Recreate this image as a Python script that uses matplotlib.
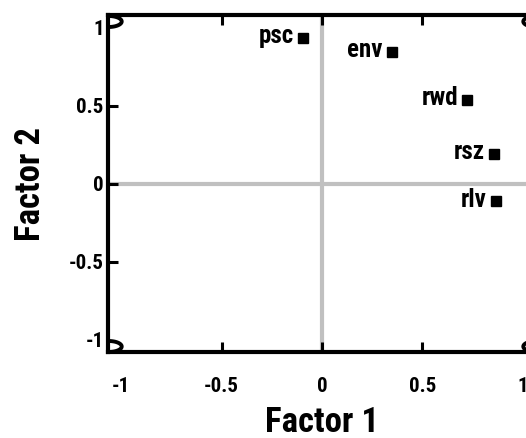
import os
import numpy as np
import matplotlib
matplotlib.use("Agg")
import matplotlib.pyplot as plt
from matplotlib import font_manager
from matplotlib.path import Path

# factor loadings
labels = ["psc", "env", "rwd", "rsz", "rlv"]
factor1 = [-0.095, 0.346, 0.724, 0.856, 0.866]
factor2 = [0.933, 0.843, 0.537, 0.189, -0.115]

ticks = [-1, -0.5, 0, 0.5, 1]
tick_labels = ["-1", "-0.5", "0", "0.5", "1"]


def _pick_condensed():
    """Find a bold condensed/narrow sans on the system, None if there is none."""
    files = [f.fname for f in font_manager.fontManager.ttflist]
    prefs = ["RobotoCondensed-Bold", "LiberationSansNarrow-Bold", "NotoSans-CondensedBold",
             "DejaVuSansCondensed-Bold", "OpenSans-CondensedBold", "OpenSans_Condensed-Bold"]
    for p in prefs:
        for fn in files:
            if os.path.splitext(os.path.basename(fn))[0] == p:
                return fn
    for fn in files:
        b = os.path.basename(fn).lower()
        if ("condensed" in b or "narrow" in b) and "bold" in b and "italic" not in b \
                and "extra" not in b and "semi" not in b:
            return fn
    return None


font_file = _pick_condensed()


def fp(size):
    if font_file:
        return font_manager.FontProperties(fname=font_file, size=size)
    return font_manager.FontProperties(family="DejaVu Sans", weight="bold", size=size)


fig = plt.figure(figsize=(5.26, 4.38), dpi=100)
ax = fig.add_axes([0.2053, 0.1963, 0.8137, 0.7694])
ax.set_xlim(-1.065, 1.065)
ax.set_ylim(-1.08, 1.08)

ax.axhline(0, color="#c0c0c0", linewidth=3, zorder=1)
ax.axvline(0, color="#c0c0c0", linewidth=3, zorder=1)

ax.plot(factor1, factor2, "s", color="black", markersize=6.5, zorder=3)
for lab, x, y in zip(labels, factor1, factor2):
    ax.annotate(lab, (x, y), xytext=(-6.5, -3.8), textcoords="offset points",
                ha="right", va="baseline", fontproperties=fp(18))

for s in ax.spines.values():
    s.set_linewidth(3)
    s.set_zorder(4)

ax.set_xticks(ticks)
ax.set_yticks(ticks)
ax.set_xticklabels(tick_labels, fontproperties=fp(15))
ax.set_yticklabels(tick_labels, fontproperties=fp(15))
ax.tick_params(axis="x", direction="in", length=7, width=2.2, pad=18, top=True)
ax.tick_params(axis="y", direction="in", length=7, width=2.2, pad=3, right=True)
# no tick marks at the +-1 ends, the corner arcs sit there
for axis in (ax.xaxis, ax.yaxis):
    for t in axis.get_major_ticks():
        if abs(t.get_loc()) == 1:
            t.tick1line.set_visible(False)
            t.tick2line.set_visible(False)

# little half-ellipse arcs in the corners
th = np.linspace(-np.pi / 2, np.pi / 2, 40)
right_arc = Path(np.column_stack([2.4 * np.cos(th), np.sin(th)]))
left_arc = Path(np.column_stack([-2.4 * np.cos(th), np.sin(th)]))
xl = ax.get_xlim()
corner_y = 1.04
for cx, arc in ((xl[0], right_arc), (xl[1], left_arc)):
    for cy in (corner_y, -corner_y):
        ax.plot([cx], [cy], marker=arc, markersize=19, markerfacecolor="none",
                markeredgecolor="black", markeredgewidth=2.8, clip_on=False, zorder=5)

ax.set_xlabel("Factor 1", fontproperties=fp(25), va="center")
ax.xaxis.set_label_coords(0.5, -0.21)
ax.set_ylabel("Factor 2", fontproperties=fp(25), va="center", ha="center")
ax.yaxis.set_label_coords(-0.18, 0.5)

fig.savefig("out.png", dpi=100)
plt.close(fig)
